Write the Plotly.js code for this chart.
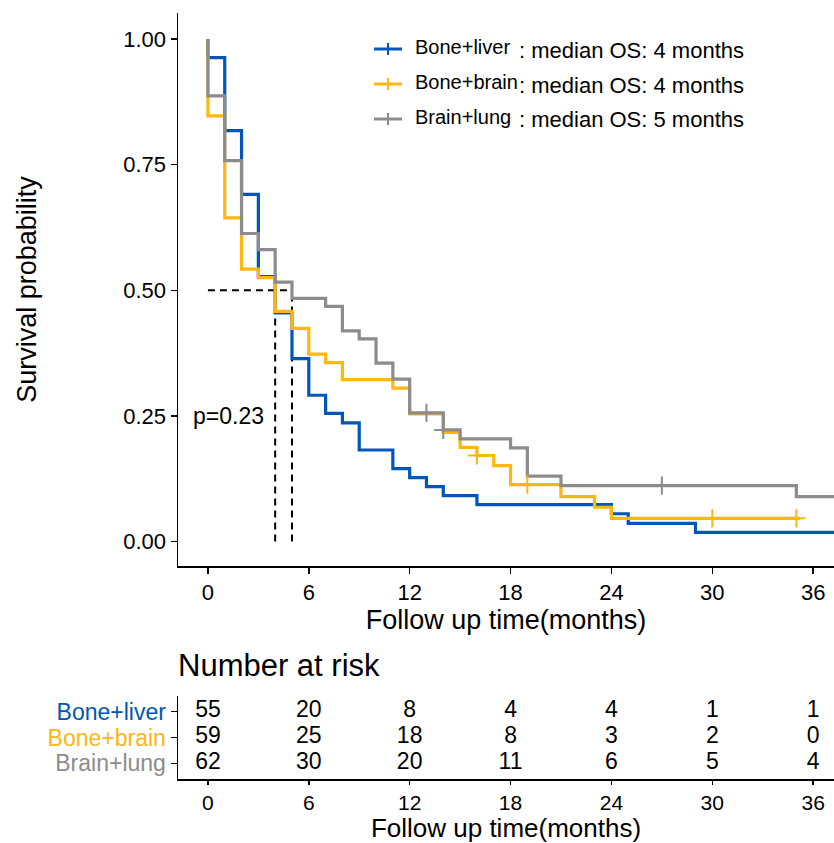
<!DOCTYPE html>
<html>
<head>
<meta charset="utf-8">
<script src="https://cdn.plot.ly/plotly-3.0.1.min.js"></script>
<style>html,body{margin:0;padding:0;background:#fff;}#chart{width:834px;height:843px;}</style>
</head>
<body>
<div id="chart"></div>
<script>
// ---- data ----
const groups = ["Bone+liver", "Bone+brain", "Brain+lung"];
const medianText = [": median OS: 4 months", ": median OS: 4 months", ": median OS: 5 months"];
const colors = ["#0057B7", "#FFB612", "#8C8C8C"];

const liverTime = [0, 0, 1, 2, 3, 4, 5, 6, 7, 8, 9, 11, 12, 13, 14, 16, 24, 25, 29, 37.5];
const liverSurv = [1, 0.963, 0.818, 0.691, 0.527, 0.455, 0.364, 0.291, 0.255, 0.236, 0.182, 0.145, 0.127, 0.109, 0.091, 0.073, 0.055, 0.036, 0.018, 0.018];
const liverCensor = [];

const brainTime = [0, 0, 1, 2, 3, 4, 5, 6, 7, 8, 11, 12, 14, 15, 16, 17, 18, 21, 23, 24, 35.2];
const brainSurv = [1, 0.847, 0.644, 0.542, 0.525, 0.458, 0.424, 0.373, 0.356, 0.322, 0.305, 0.254, 0.217, 0.187, 0.171, 0.151, 0.113, 0.089, 0.068, 0.046, 0.046];
const brainCensor = [16, 19, 30, 35];

const lungTime = [0, 0, 1, 2, 3, 4, 5, 7, 8, 9, 10, 11, 12, 14, 15, 18, 19, 21, 35, 37.5];
const lungSurv = [1, 0.887, 0.758, 0.613, 0.581, 0.516, 0.484, 0.468, 0.419, 0.403, 0.355, 0.323, 0.256, 0.222, 0.204, 0.186, 0.130, 0.111, 0.089, 0.089];
const lungCensor = [13, 14, 27];

const riskTimes = [0, 6, 12, 18, 24, 30, 36];
const riskLiver = [55, 20, 8, 4, 4, 1, 1];
const riskBrain = [59, 25, 18, 8, 3, 2, 0];
const riskLung = [62, 30, 20, 11, 6, 5, 4];

const pValue = "p=0.23";
const xTicks = [0, 6, 12, 18, 24, 30, 36];
const yTicks = [0, 0.25, 0.5, 0.75, 1];
const yTickText = ["0.00", "0.25", "0.50", "0.75", "1.00"];

// ---- build ----
const W = 834, H = 843, L = 178;
const px2x = p => (p - L) / (W - L);
const py2y = p => (H - p) / H;
const FONT = "Liberation Sans, Arial, Helvetica, sans-serif";

const series = [
  {t: liverTime, s: liverSurv, c: liverCensor, risk: riskLiver},
  {t: brainTime, s: brainSurv, c: brainCensor, risk: riskBrain},
  {t: lungTime, s: lungSurv, c: lungCensor, risk: riskLung}
];
function stepAt(t, s, x) {
  let v = s[0];
  for (let i = 0; i < t.length; i++) if (t[i] <= x) v = s[i];
  return v;
}
function median(t, s) {
  for (let i = 0; i < t.length; i++) if (s[i] <= 0.5) return t[i];
  return null;
}

const traces = [];
const shapes = [];
const medians = series.map(d => median(d.t, d.s));
const maxMed = Math.max(...medians);
shapes.push({type: "line", xref: "x", yref: "y", x0: 0, x1: maxMed, y0: 0.5, y1: 0.5,
  line: {color: "black", width: 2, dash: "7px,5px"}, layer: "below"});
[...new Set(medians)].forEach(m => {
  shapes.push({type: "line", xref: "x", yref: "y", x0: m, x1: m, y0: 0, y1: 0.5,
    line: {color: "black", width: 2, dash: "7px,5px"}, layer: "below"});
});

series.forEach((d, i) => {
  traces.push({x: d.t, y: d.s, type: "scatter", mode: "lines", line: {shape: "hv", color: colors[i], width: 3.2},
    xaxis: "x", yaxis: "y", hoverinfo: "skip", showlegend: false});
});
series.forEach((d, i) => {
  if (d.c.length) traces.push({x: d.c, y: d.c.map(x => stepAt(d.t, d.s, x)), type: "scatter", mode: "markers",
    marker: {symbol: "cross-thin-open", size: 13, color: colors[i], line: {color: colors[i], width: 2}},
    xaxis: "x", yaxis: "y", hoverinfo: "skip", showlegend: false, cliponaxis: false});
});
// risk table
series.forEach((d, i) => {
  traces.push({x: riskTimes, y: riskTimes.map(() => 3 - i), text: d.risk.map(String), type: "scatter", mode: "text",
    textfont: {family: FONT, size: 23, color: "black"}, xaxis: "x2", yaxis: "y2", hoverinfo: "skip", showlegend: false, cliponaxis: false});
});

// legend (manual)
const annotations = [];
const legY = [49, 84, 119];
groups.forEach((g, i) => {
  shapes.push({type: "line", xref: "paper", yref: "paper", x0: px2x(374), x1: px2x(402), y0: py2y(legY[i]), y1: py2y(legY[i]),
    line: {color: colors[i], width: 3}});
  shapes.push({type: "line", xref: "paper", yref: "paper", x0: px2x(388), x1: px2x(388), y0: py2y(legY[i] - 6), y1: py2y(legY[i] + 6),
    line: {color: colors[i], width: 2}});
  annotations.push({xref: "paper", yref: "paper", x: px2x(413), y: py2y(legY[i] - 2), xanchor: "left", yanchor: "middle",
    text: g, showarrow: false, font: {family: FONT, size: 20, color: "black"}});
  annotations.push({xref: "paper", yref: "paper", x: px2x(517), y: py2y(legY[i] + 1), xanchor: "left", yanchor: "middle",
    text: medianText[i], showarrow: false, font: {family: FONT, size: 22, color: "black"}});
});
annotations.push({xref: "x", yref: "y", x: -1.03, y: 0.25, xanchor: "left", yanchor: "middle", text: pValue,
  showarrow: false, font: {family: FONT, size: 23, color: "black"}});
annotations.push({xref: "paper", yref: "paper", x: px2x(176), y: py2y(665), xanchor: "left", yanchor: "middle",
  text: "Number at risk", showarrow: false, font: {family: FONT, size: 31, color: "black"}});

const xr = [-1.78, 37.24];
const axisCommon = {showline: true, linecolor: "black", linewidth: 1.5, ticks: "outside", ticklen: 6, tickwidth: 1.5,
  tickcolor: "black", showgrid: false, zeroline: false, tickfont: {family: FONT, size: 22, color: "black"}, automargin: false};

const ticktext2 = groups.map((g, i) => `<span style="color:${colors[i]}">${g}</span>`);

const layout = {
  width: W, height: H, margin: {l: L, r: 0, t: 0, b: 0}, paper_bgcolor: "white", plot_bgcolor: "white",
  font: {family: FONT, color: "black"}, showlegend: false,
  xaxis: Object.assign({}, axisCommon, {domain: [0, 1], range: xr, tickvals: xTicks, anchor: "y",
    title: {text: "Follow up time(months)", font: {family: FONT, size: 27, color: "black"}, standoff: 0}}),
  yaxis: Object.assign({}, axisCommon, {domain: [py2y(566), py2y(13)], range: [-0.049, 1.052], tickvals: yTicks, ticktext: yTickText,
    anchor: "x", title: {text: "Survival probability", font: {family: FONT, size: 27, color: "black"}, standoff: 79}}),
  xaxis2: Object.assign({}, axisCommon, {domain: [0, 1], range: xr, tickvals: xTicks, anchor: "y2", ticklen: 4,
    tickfont: {family: FONT, size: 21, color: "black"},
    title: {text: "Follow up time(months)", font: {family: FONT, size: 26, color: "black"}, standoff: 2}}),
  yaxis2: Object.assign({}, axisCommon, {domain: [py2y(779.3), py2y(695.7)], range: [0.385, 3.615], tickvals: [3, 2, 1],
    ticktext: ticktext2, tickfont: {family: FONT, size: 23, color: "black"}, anchor: "x2"}),
  shapes: shapes, annotations: annotations
};

Plotly.newPlot("chart", traces, layout, {staticPlot: true, displayModeBar: false});
</script>
</body>
</html>
